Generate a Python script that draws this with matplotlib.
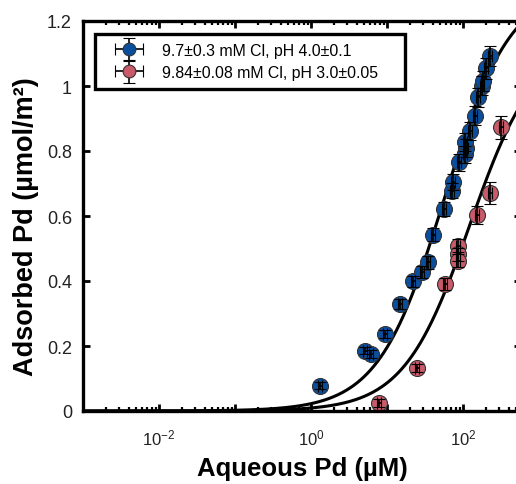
import numpy as np
import matplotlib
matplotlib.use("Agg")
import matplotlib.pyplot as plt
from matplotlib.ticker import FixedLocator, NullFormatter
from matplotlib.legend_handler import HandlerErrorbar
from matplotlib.container import ErrorbarContainer

plt.rcParams['font.family'] = ['Liberation Sans', 'DejaVu Sans']
plt.rcParams['mathtext.fontset'] = 'custom'
plt.rcParams['mathtext.rm'] = 'Liberation Sans'

# ---- data ----
blue_x = [1.31, 5.1, 6.1, 9.5, 14.8, 22.2, 28.6, 35, 40.7, 56, 72, 73, 89, 106, 110,
          106, 124, 144, 159, 176, 181, 200, 226]
blue_y = [0.078, 0.186, 0.175, 0.237, 0.329, 0.399, 0.427, 0.457, 0.542, 0.622, 0.678,
          0.704, 0.765, 0.790, 0.810, 0.827, 0.862, 0.909, 0.965, 1.001, 1.016, 1.054, 1.093]
blue_yerr = [0.010, 0.012, 0.012, 0.013, 0.015, 0.017, 0.018, 0.020, 0.020, 0.022, 0.024,
             0.024, 0.026, 0.026, 0.027, 0.027, 0.028, 0.029, 0.030, 0.030, 0.031, 0.031, 0.031]
blue_xerr_frac = 0.06

red_x = [7.9, 24.6, 58, 85, 85, 85, 155, 226, 316]
red_y = [0.024, 0.132, 0.391, 0.508, 0.483, 0.462, 0.603, 0.670, 0.873]
red_yerr = [0.012, 0.013, 0.018, 0.020, 0.020, 0.020, 0.029, 0.034, 0.036]
red_xerr_frac = 0.06

# Langmuir fit parameters (Qmax, K)
fit_blue = (1.309, 0.01756)
fit_red = (1.142, 0.008176)

labels = ["9.7\u00b10.3 mM Cl, pH 4.0\u00b10.1", "9.84\u00b10.08 mM Cl, pH 3.0\u00b10.05"]
colors = ["#0A4F9E", "#C85A6A"]
xlim = (1e-3, 580)
ylim = (0, 1.2)
yticks = [0, 0.2, 0.4, 0.6, 0.8, 1.0, 1.2]
ytick_labels = ["0", "0.2", "0.4", "0.6", "0.8", "1", "1.2"]
xmajor = [1e-3, 1e-2, 1e-1, 1e0, 1e1, 1e2]
xmajor_labels = ["", r"$\mathregular{10^{-2}}$", "", r"$\mathregular{10^{0}}$", "",
                 r"$\mathregular{10^{2}}$"]

fig = plt.figure(figsize=(5.16, 4.85), dpi=100)
ax = fig.add_axes([83/516, 73/485, 438/516, 390/485])

xc = np.logspace(-3, np.log10(xlim[1]), 400)
for (Q, K) in (fit_blue, fit_red):
    ax.plot(xc, Q * K * xc / (1 + K * xc), color='black', lw=2.2, zorder=1)

for xs, ys, ye, xf, c, lab in ((blue_x, blue_y, blue_yerr, blue_xerr_frac, colors[0], labels[0]),
                               (red_x, red_y, red_yerr, red_xerr_frac, colors[1], labels[1])):
    xs = np.array(xs)
    xe = xs * xf
    cont = ax.errorbar(xs, ys, yerr=ye, xerr=xe, fmt='o', ms=11.5, mfc=c, mec='#333333',
                       mew=0.8, ecolor='black', elinewidth=1.2, capsize=4, capthick=1.2,
                       label=lab, zorder=2)
    for cl in cont[1]:
        cl.set_zorder(3)
    for bl in cont[2]:
        bl.set_zorder(3)

ax.set_xscale('log')
ax.set_xlim(*xlim)
ax.set_ylim(*ylim)
ax.xaxis.set_major_locator(FixedLocator(xmajor))
ax.set_xticklabels(xmajor_labels)
minors = [m * 10.0**e for e in range(-3, 3) for m in range(2, 10)]
ax.xaxis.set_minor_locator(FixedLocator(minors))
ax.xaxis.set_minor_formatter(NullFormatter())
ax.set_yticks(yticks)
ax.set_yticklabels(ytick_labels)

for s in ax.spines.values():
    s.set_linewidth(2.4)
    s.set_color('black')
ax.tick_params(which='major', direction='in', top=True, right=True, length=5, width=2,
               colors='black', labelcolor='#222222')
ax.tick_params(which='minor', direction='in', top=True, right=True, length=3, width=1.6)
ax.tick_params(axis='x', which='major', pad=12, labelsize=12)
ax.tick_params(axis='y', which='major', pad=8, labelsize=13)

ax.set_xlabel("Aqueous Pd (\u00b5M)", fontsize=18.5, fontweight='bold', labelpad=6)
ax.set_ylabel("Adsorbed Pd (\u00b5mol/m\u00b2)", fontsize=19.5, fontweight='bold')
ax.yaxis.set_label_coords((39-83)/438, (412-227)/390)

lx0, lx1, ly0, ly1 = (95-83)/438, (405-83)/438, (412-92)/390, (412-35)/390
leg = ax.legend(loc='upper left', bbox_to_anchor=(lx0, ly0, lx1-lx0, ly1-ly0), mode='expand',
                borderaxespad=0, fontsize=11.4, frameon=True, fancybox=False, framealpha=1,
                handlelength=3.2, handletextpad=0.5, borderpad=0.55, labelspacing=0.45,
                edgecolor='black', markerscale=0.8,
                handler_map={ErrorbarContainer: HandlerErrorbar(xerr_size=0.9, yerr_size=0.72)})
leg.get_frame().set_linewidth(2.4)

fig.savefig("out.png", dpi=100)
